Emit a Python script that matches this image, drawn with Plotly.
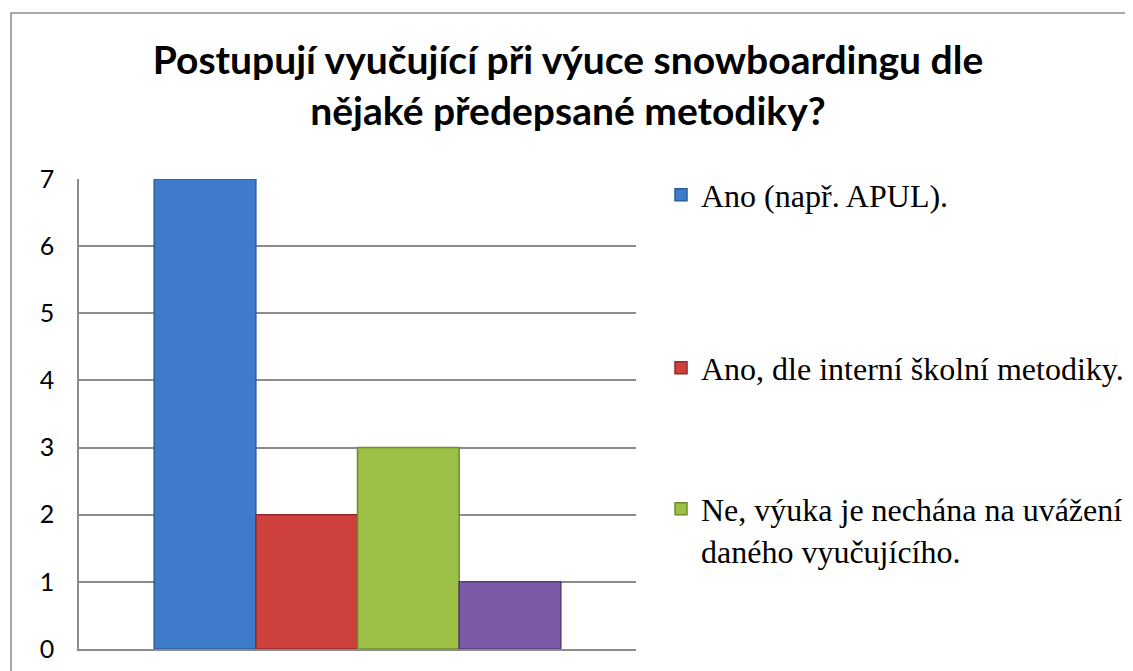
import plotly.graph_objects as go

title_lines = ["Postupují vyučující při výuce snowboardingu dle", "nějaké předepsané metodiky?"]
series_names = ["Ano (např. APUL).", "Ano, dle interní školní metodiky.",
                "Ne, výuka je nechána na uvážení<br>daného vyučujícího.", "Jiné"]
series_values = [7, 2, 3, 1]
series_colors = ["#3E7CCB", "#CE403C", "#9CBF45", "#7D5AA6"]
series_lines = ["#2C5D9A", "#8E2A27", "#6E8C2C", "#563C7A"]
show_in_legend = [True, True, True, False]
y_ticks = [0, 1, 2, 3, 4, 5, 6, 7]
category = [""]

W, H = 1133, 671
OFF = 8  # page body margin offset
L, T = 79 - OFF, 179 - OFF
B = H - (649 - OFF)
R = W - (636 - OFF)
pw, ph = W - L - R, H - T - B


def px_x(p):
    return (p - OFF - L) / pw


def px_y(p):
    return (H - B - (p - OFF)) / ph


legend_ids = ["legend", "legend2", "legend3", "legend"]
legend_centers = [195, 368, 530]

fig = go.Figure()
for i, (n, v, c, lc, sl) in enumerate(zip(series_names, series_values, series_colors, series_lines, show_in_legend)):
    fig.add_trace(go.Bar(x=category, y=[v], name=n, marker=dict(color=c, line=dict(color=lc, width=1.5)),
                         showlegend=sl, legend=legend_ids[i]))

legend_style = dict(font=dict(family="Liberation Serif", size=32, color="black"),
                    valign="top", bgcolor="rgba(0,0,0,0)", xanchor="left", yanchor="middle",
                    x=px_x(661))

fig.update_layout(
    width=W, height=H,
    margin=dict(l=L, r=R, t=T, b=B, autoexpand=False),
    paper_bgcolor="white", plot_bgcolor="white",
    barmode="group", bargap=0.27, bargroupgap=0,
    title=dict(text="<br>".join(title_lines), x=px_x(568), xref="paper", xanchor="center",
               y=1 - 66 / H, yanchor="middle",
               font=dict(family="Lato", size=39, color="black", weight="bold")),
    legend=dict(y=px_y(legend_centers[0]), **legend_style),
    legend2=dict(y=px_y(legend_centers[1]), **legend_style),
    legend3=dict(y=px_y(legend_centers[2]), **legend_style),
    showlegend=True,
)
fig.update_xaxes(showticklabels=False, showline=True, linecolor="#8C8C8C", linewidth=1.5,
                 showgrid=False, ticks="")
fig.update_yaxes(range=[0, 7], tickvals=y_ticks, showline=True, linecolor="#8C8C8C", linewidth=1.5,
                 gridcolor="#8C8C8C", gridwidth=1.5, ticks="", ticklabelstandoff=18,
                 tickfont=dict(family="Lato", size=25, color="black"), zeroline=False)

fig.add_shape(type="rect", xref="paper", yref="paper", x0=px_x(11), x1=px_x(1300), y0=px_y(13), y1=px_y(720),
              line=dict(color="#8C8C8C", width=1.5), fillcolor="rgba(0,0,0,0)", layer="below")

fig.write_html("out.html")
